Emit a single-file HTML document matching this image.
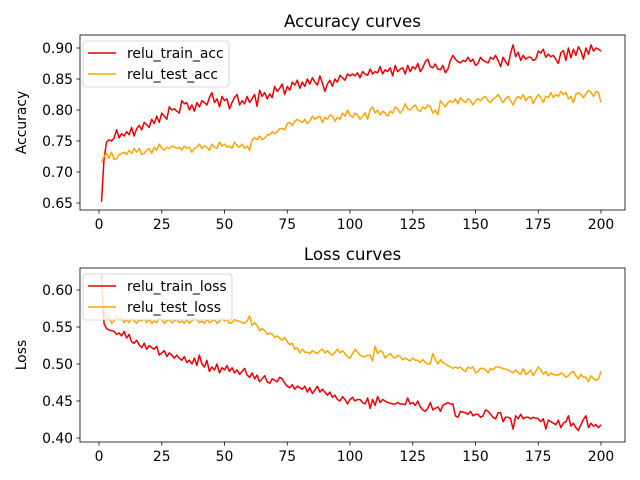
<!DOCTYPE html>
<html><head><meta charset="utf-8"><style>
body{margin:0;background:#fff}
svg{display:block;font-family:"DejaVu Sans","Liberation Sans",sans-serif}
</style></head><body>
<svg id="chart" width="640" height="480" viewBox="0 0 640 480"></svg>
<script>
const epochs = Array.from({length:200},(_,i)=>i+1);
const trainAcc = [.652,.72,.748,.752,.750,.755,.768,.755,.762,.758,.765,.760,.772,.758,.770,.775,.768,.780,.776,.772,.785,.778,.790,.780,.795,.790,.785,.805,.800,.802,.798,.795,.815,.810,.812,.800,.808,.798,.812,.805,.815,.812,.808,.820,.828,.812,.818,.805,.822,.815,.818,.802,.812,.820,.825,.808,.815,.810,.822,.812,.818,.825,.806,.832,.822,.828,.818,.826,.820,.838,.830,.835,.842,.825,.838,.832,.845,.840,.848,.835,.845,.838,.850,.842,.852,.845,.840,.855,.843,.830,.842,.848,.838,.850,.845,.856,.852,.848,.858,.855,.858,.855,.860,.852,.862,.858,.856,.866,.858,.862,.860,.870,.858,.865,.862,.868,.855,.872,.862,.866,.868,.858,.872,.862,.870,.866,.875,.862,.868,.878,.882,.870,.868,.874,.866,.865,.872,.860,.866,.880,.888,.882,.878,.876,.880,.878,.885,.878,.882,.872,.875,.885,.880,.878,.876,.885,.882,.888,.880,.870,.885,.878,.872,.892,.905,.886,.893,.880,.888,.882,.885,.885,.880,.882,.895,.892,.898,.885,.890,.886,.888,.882,.875,.892,.896,.880,.900,.884,.898,.888,.902,.895,.882,.900,.890,.905,.895,.900,.898,.895];
const testAcc = [.715,.725,.730,.722,.732,.720,.722,.728,.730,.732,.728,.735,.730,.738,.732,.738,.728,.730,.735,.738,.730,.740,.735,.745,.738,.735,.740,.738,.742,.740,.738,.740,.735,.742,.738,.740,.732,.738,.740,.745,.738,.742,.740,.735,.745,.740,.738,.748,.742,.745,.740,.742,.738,.748,.742,.740,.745,.738,.742,.735,.752,.755,.752,.758,.752,.755,.760,.760,.765,.762,.765,.770,.770,.768,.778,.780,.775,.782,.785,.782,.780,.785,.778,.782,.790,.785,.788,.790,.780,.788,.785,.792,.790,.782,.788,.785,.795,.790,.800,.792,.788,.795,.792,.785,.790,.796,.785,.800,.805,.795,.800,.792,.798,.795,.790,.798,.795,.805,.802,.795,.800,.810,.802,.800,.805,.808,.800,.798,.805,.802,.808,.805,.795,.800,.792,.815,.810,.805,.812,.815,.812,.818,.810,.820,.815,.812,.818,.815,.808,.815,.818,.815,.820,.822,.815,.812,.818,.820,.825,.818,.812,.818,.822,.815,.808,.818,.822,.818,.825,.815,.820,.822,.810,.818,.825,.820,.812,.822,.820,.828,.820,.825,.822,.830,.825,.828,.818,.822,.812,.825,.828,.825,.820,.826,.832,.828,.822,.830,.828,.812];
const trainLoss = [.620,.555,.548,.546,.545,.544,.540,.542,.538,.544,.535,.540,.530,.528,.532,.526,.522,.528,.520,.525,.522,.520,.524,.512,.515,.518,.510,.515,.512,.508,.512,.508,.505,.510,.502,.505,.500,.508,.498,.512,.500,.496,.505,.490,.496,.492,.500,.488,.495,.492,.498,.490,.495,.488,.492,.486,.490,.494,.485,.482,.488,.480,.485,.476,.480,.484,.476,.474,.480,.478,.476,.482,.480,.474,.470,.468,.472,.466,.470,.468,.466,.470,.462,.468,.460,.465,.470,.462,.466,.462,.458,.462,.455,.458,.452,.450,.456,.452,.446,.452,.455,.450,.452,.452,.448,.446,.454,.440,.452,.444,.456,.448,.452,.450,.448,.447,.446,.446,.448,.446,.446,.445,.454,.446,.448,.444,.450,.442,.438,.436,.440,.448,.438,.440,.442,.436,.444,.446,.448,.446,.446,.430,.428,.436,.435,.434,.432,.436,.430,.432,.432,.428,.430,.438,.436,.432,.428,.426,.434,.434,.422,.428,.428,.426,.412,.430,.426,.432,.426,.428,.428,.426,.428,.427,.426,.422,.426,.412,.424,.422,.420,.418,.424,.414,.420,.422,.430,.416,.420,.414,.410,.418,.425,.430,.414,.420,.416,.418,.414,.418];
const testLoss = [.615,.575,.560,.565,.555,.558,.565,.560,.562,.556,.560,.556,.562,.558,.555,.560,.558,.562,.556,.560,.555,.558,.556,.562,.560,.555,.558,.560,.556,.558,.560,.556,.558,.555,.560,.555,.558,.562,.560,.556,.558,.555,.560,.556,.558,.560,.555,.558,.562,.558,.560,.555,.556,.560,.558,.558,.556,.555,.558,.565,.552,.556,.552,.545,.548,.545,.540,.542,.540,.536,.538,.535,.532,.536,.530,.526,.528,.520,.522,.515,.520,.516,.516,.514,.518,.516,.514,.518,.520,.515,.518,.514,.512,.516,.520,.515,.518,.514,.510,.508,.514,.520,.516,.512,.510,.510,.512,.512,.504,.524,.514,.518,.516,.508,.512,.514,.510,.508,.512,.510,.506,.508,.506,.504,.508,.505,.505,.502,.506,.502,.500,.500,.514,.506,.500,.506,.502,.500,.498,.496,.494,.496,.494,.496,.492,.490,.496,.494,.496,.488,.490,.494,.494,.492,.488,.494,.492,.496,.496,.495,.494,.493,.492,.490,.488,.492,.488,.486,.494,.486,.488,.492,.484,.490,.496,.492,.486,.490,.484,.488,.486,.485,.485,.488,.486,.482,.484,.488,.490,.484,.480,.486,.482,.482,.476,.484,.480,.478,.480,.490];
const xTicks = [0,25,50,75,100,125,150,175,200];
const accTicks = [0.65,0.70,0.75,0.80,0.85,0.90];
const lossTicks = [0.40,0.45,0.50,0.55,0.60];

const svg = document.getElementById('chart');
const NS = 'http://www.w3.org/2000/svg';
function mk(tag, attrs, parent){const e=document.createElementNS(NS,tag);for(const k in attrs)e.setAttribute(k,attrs[k]);(parent||svg).appendChild(e);return e;}
const xs = v => 99 + (v-0)*(601-99)/200;

function panel(cfg){
  const g = mk('g',{});
  
  
  const ys = v => cfg.y0px + (v-cfg.y0)*(cfg.y1px-cfg.y0px)/(cfg.y1-cfg.y0);
  const t = mk('text',{x:(80+625)/2,y:cfg.top-8,'text-anchor':'middle','font-size':'16.7',fill:'#000'},g);
  t.textContent = cfg.title;
  
  
  cfg.series.forEach(s=>{
    const d = epochs.map((e,i)=>(i?'L':'M')+xs(e).toFixed(1)+','+ys(s.data[i]).toFixed(1)).join('');
    const p = mk('path',{d:d,fill:'none',stroke:s.color,'stroke-width':'1.5','stroke-linejoin':'round'},g);
    
    
  });
  const fr = mk('rect',{x:80,y:cfg.top,width:545,height:cfg.bottom-cfg.top,fill:'none',stroke:'#000','stroke-width':'0.8'},g);
  
  
  xTicks.forEach(v=>{
    mk('line',{x1:xs(v),x2:xs(v),y1:cfg.bottom,y2:cfg.bottom+3.5,stroke:'#000','stroke-width':'0.8'},g);
    const tx = mk('text',{x:xs(v),y:cfg.bottom+19,'text-anchor':'middle','font-size':'13.9',fill:'#000'},g);
    tx.textContent = v;
    
    
  });
  cfg.ticks.forEach(v=>{
    mk('line',{x1:80,x2:76.5,y1:ys(v),y2:ys(v),stroke:'#000','stroke-width':'0.8'},g);
    const ty = mk('text',{x:73,y:ys(v)+5,'text-anchor':'end','font-size':'13.9',fill:'#000'},g);
    ty.textContent = v.toFixed(2);
    
    
  });
  const yl = mk('text',{x:0,y:0,transform:`translate(26,${(cfg.top+cfg.bottom)/2}) rotate(-90)`,'text-anchor':'middle','font-size':'13.9',fill:'#000'},g);
  yl.textContent = cfg.ylabel;
  
  
  const lg = mk('g',{},g);
  
  
  mk('rect',{x:83,y:cfg.top+6,width:cfg.legW,height:46,rx:3,fill:'#fff','fill-opacity':'0.8',stroke:'#ccc','stroke-width':'0.8'},lg);
  cfg.series.forEach((s,i)=>{
    const yy = cfg.top+18+i*21;
    mk('line',{x1:88,x2:116,y1:yy,y2:yy,stroke:s.color,'stroke-width':'1.5'},lg);
    const lt = mk('text',{x:127,y:yy+5,'font-size':'13.9',fill:'#000'},lg);
    lt.textContent = s.key;
    
    
  });
}
panel({name:'accuracy-panel',title:'Accuracy curves',ylabel:'Accuracy',top:35,bottom:210,y0:0.65,y0px:203,y1:0.90,y1px:48,ticks:accTicks,legW:146,
  series:[{key:'relu_train_acc',color:'#ee0000',data:trainAcc},{key:'relu_test_acc',color:'#ffa500',data:testAcc}]});
panel({name:'loss-panel',title:'Loss curves',ylabel:'Loss',top:268,bottom:442,y0:0.40,y0px:438,y1:0.60,y1px:290,ticks:lossTicks,legW:149,
  series:[{key:'relu_train_loss',color:'#ee0000',data:trainLoss},{key:'relu_test_loss',color:'#ffa500',data:testLoss}]});
</script>
</body></html>
